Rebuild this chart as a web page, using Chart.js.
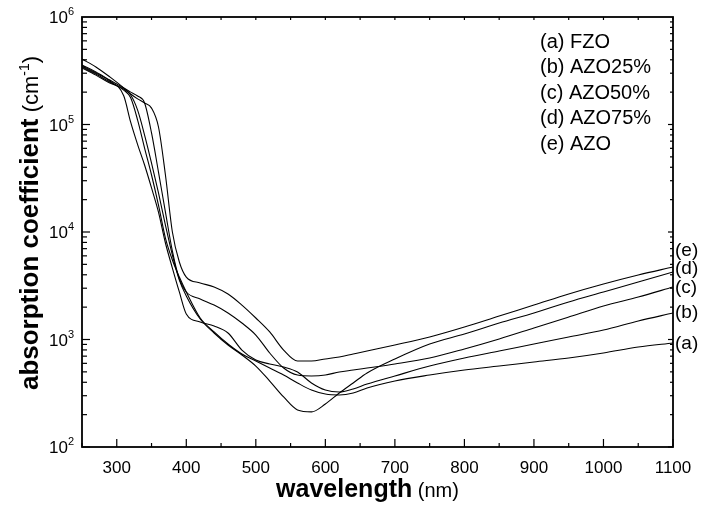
<!DOCTYPE html>
<html lang="en">
<head>
<meta charset="UTF-8">
<title>absorption coefficient vs wavelength</title>
<script src="https://cdn.jsdelivr.net/npm/chart.js"></script>
<style>
html,body{margin:0;padding:0;background:#fff;width:701px;height:510px;overflow:hidden}
#c{display:block}
</style>
</head>
<body>
<canvas id="c" width="701" height="510"></canvas>
<script>
// wavelength (nm) and absorption coefficient (cm^-1)
const wavelength=[250,270,290,310,320,330,340,350,360,370,380,390,400,420,440,460,480,500,520,540,560,580,600,620,640,660,700,750,800,850,900,950,1000,1050,1100];
const fzo  =[343000,295000,248000,209000,177000,110000,60400,33900,17800,8790,5490,3810,2770,1585,1175,908,733,631,543,467,394,339,311,305,318,354,411,467,520,566,618,673,749,851,928];
const azo25=[350000,301000,254000,185000,105000,65000,42000,25700,15300,7900,4620,2770,1730,1455,1336,1150,798,645,592,555,499,394,339,325,347,385,458,566,673,782,908,1055,1225,1486,1766];
const azo50=[357000,308000,259000,219000,200000,184000,158500,83400,36100,15300,6650,3660,2767,2382,2090,1766,1423,1101,749,543,467,458,467,499,520,543,592,673,816,1011,1279,1619,2050,2485,3076];
const azo75=[336000,288000,243000,214000,188000,136000,79800,43800,23100,11600,6110,3570,2540,1550,1150,889,718,566,411,292,221,212,251,318,394,488,659,908,1125,1423,1766,2234,2767,3427,4246];
const azo  =[406000,343000,277000,219000,192000,173000,158500,142000,94800,33900,10000,5260,3810,3360,3080,2650,2090,1585,1175,798,631,631,659,687,733,782,889,1055,1306,1655,2090,2650,3281,3981,4722];

const seriesNames=['(a) FZO','(b) AZO25%','(c) AZO50%','(d) AZO75%','(e) AZO'];
const endTags=['(a)','(b)','(c)','(d)','(e)'];
const xTicks=[300,400,500,600,700,800,900,1000,1100];
const yExponents=[2,3,4,5,6];

const series=[fzo,azo25,azo50,azo75,azo];
const FONT='"Liberation Sans", Arial, Helvetica, sans-serif';

function seg(ctx,x1,y1,x2,y2){ctx.beginPath();ctx.moveTo(x1,y1);ctx.lineTo(x2,y2);ctx.stroke();}

// frame, inward ticks, labels and titles
const decor={
  id:'decor',
  afterDraw(chart){
    const {ctx,chartArea:a,scales:{x,y}}=chart;
    ctx.save();
    ctx.strokeStyle='#000';ctx.fillStyle='#000';
    ctx.lineWidth=1.8;
    ctx.strokeRect(a.left,a.top,a.right-a.left,a.bottom-a.top);

    ctx.lineWidth=1.2;
    for(let v=250;v<=1100;v+=50){
      const px=x.getPixelForValue(v);
      const major=v%100===0;
      seg(ctx,px,a.bottom,px,a.bottom-(major?8:4));
      seg(ctx,px,a.top,px,a.top+3);
    }
    for(let e=2;e<6;e++){
      for(let m=1;m<10;m++){
        const py=y.getPixelForValue(m*Math.pow(10,e));
        seg(ctx,a.left,py,a.left+(m===1?8:5),py);
        seg(ctx,a.right,py,a.right-(m===1?5:3),py);
      }
    }

    // x tick labels
    ctx.font='17px '+FONT;ctx.textAlign='center';ctx.textBaseline='alphabetic';
    xTicks.forEach(v=>ctx.fillText(String(v),x.getPixelForValue(v),a.bottom+26));

    // y tick labels 10^n
    yExponents.forEach(n=>{
      const py=y.getPixelForValue(Math.pow(10,n));
      ctx.font='11px '+FONT;ctx.textAlign='right';ctx.textBaseline='alphabetic';
      const sw=ctx.measureText(String(n)).width;
      ctx.fillText(String(n),a.left-8,py-2);
      ctx.font='17px '+FONT;
      ctx.fillText('10',a.left-8-sw,py+6);
    });

    // curve tags at the right edge
    const tagShift=[1,0,1,-3,-16];
    ctx.font='19px '+FONT;ctx.textAlign='left';ctx.textBaseline='middle';
    series.forEach((s,i)=>{
      const py=y.getPixelForValue(s[s.length-1]);
      ctx.fillText(endTags[i],a.right+2,py+tagShift[i]);
    });

    // legend text
    ctx.font='20px '+FONT;ctx.textAlign='left';ctx.textBaseline='middle';
    seriesNames.forEach((t,i)=>ctx.fillText(t,540,a.top+25+i*25.6));

    // x title
    ctx.textBaseline='alphabetic';
    ctx.font='bold 25px '+FONT;
    const w1=ctx.measureText('wavelength').width;
    ctx.font='20px '+FONT;
    const w2=ctx.measureText(' (nm)').width;
    let sx=(a.left+a.right)/2-10-(w1+w2)/2;
    ctx.font='bold 25px '+FONT;ctx.fillText('wavelength',sx,a.bottom+50);
    ctx.font='20px '+FONT;ctx.fillText(' (nm)',sx+w1,a.bottom+50);

    // y title (rotated)
    ctx.save();
    ctx.translate(38,(a.top+a.bottom)/2-9);
    ctx.rotate(-Math.PI/2);
    const parts=[['bold 26px ','absorption coefficient',0],['22px ',' (cm',0],['14px ','-1',-9],['22px ',')',0]];
    let total=0;
    parts.forEach(p=>{ctx.font=p[0]+FONT;total+=ctx.measureText(p[1]).width;});
    let cx=-total/2;
    parts.forEach(p=>{ctx.font=p[0]+FONT;ctx.fillText(p[1],cx,p[2]);cx+=ctx.measureText(p[1]).width;});
    ctx.restore();

    ctx.restore();
  }
};

new Chart(document.getElementById('c'),{
  type:'line',
  data:{
    datasets:series.map((s,i)=>({
      label:seriesNames[i],
      data:s.map((v,j)=>({x:wavelength[j],y:v})),
      borderColor:'#000',borderWidth:1.1,pointRadius:0,fill:false,
      cubicInterpolationMode:'monotone'
    }))
  },
  options:{
    responsive:false,animation:false,
    layout:{padding:{left:82,right:28,top:17,bottom:63}},
    plugins:{legend:{display:false},tooltip:{enabled:false}},
    scales:{
      x:{type:'linear',min:250,max:1100,display:false},
      y:{type:'logarithmic',min:100,max:1000000,display:false}
    }
  },
  plugins:[decor]
});
</script>
</body>
</html>
